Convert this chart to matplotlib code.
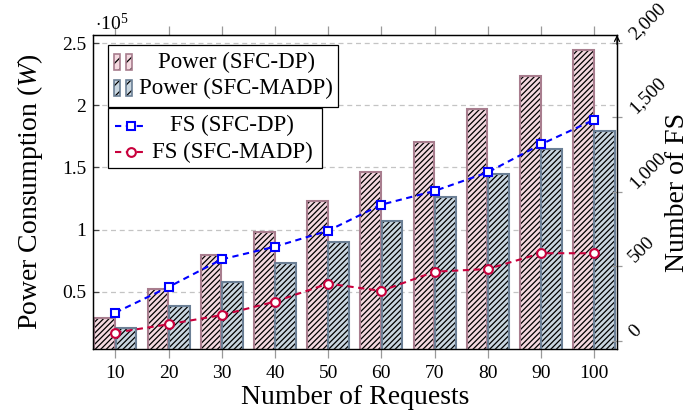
import matplotlib
matplotlib.use("Agg")
import matplotlib.pyplot as plt
from matplotlib.patches import Rectangle
from matplotlib.lines import Line2D
from matplotlib.ticker import FuncFormatter, FixedLocator

plt.rcParams['font.family'] = ['Liberation Serif', 'DejaVu Serif']
plt.rcParams['mathtext.fontset'] = 'custom'
plt.rcParams['mathtext.rm'] = 'Liberation Serif'
plt.rcParams['mathtext.it'] = 'Liberation Serif:italic'
plt.rcParams['hatch.linewidth'] = 0.9

# Data
requests = [10, 20, 30, 40, 50, 60, 70, 80, 90, 100]
power_dp = [28500, 52400, 79600, 98400, 122600, 146300, 170500, 196800, 224000, 244700]
power_madp = [21000, 38500, 58000, 72900, 90300, 106500, 126100, 144700, 165000, 179000]
fs_dp = [188, 360, 546, 631, 738, 913, 1005, 1130, 1318, 1483]
fs_madp = [54, 110, 172, 262, 383, 334, 463, 481, 587, 587]
left_ticks = [50000, 100000, 150000, 200000, 250000]
right_ticks = [0, 500, 1000, 1500, 2000]

W, H = 692, 416
fig = plt.figure(figsize=(W / 100, H / 100), dpi=100)


def fx(x):
    return x / W


def fy(y):
    return 1 - y / H


ax = fig.add_axes([fx(93), fy(349), fx(617) - fx(93), fy(35) - fy(349)])
ax2 = ax.twinx()

pink_face, pink_edge = '#f4d9e0', '#a87d8e'
blue_face, blue_edge = '#c9d6e0', '#6b7f95'
bw = 3.9


def hatched_bars(xs, heights, face, edge):
    # fill, black hatching, then the coloured outline on top
    ax.bar(xs, heights, width=bw, color=face, linewidth=0, zorder=2)
    ax.bar(xs, heights, width=bw, facecolor='none', edgecolor='black',
           linewidth=0, hatch='//////', zorder=2.1)
    ax.bar(xs, heights, width=bw, facecolor='none', edgecolor=edge,
           linewidth=1.5, zorder=2.2)


hatched_bars([r - 2.0 for r in requests], power_dp, pink_face, pink_edge)
hatched_bars([r + 2.0 for r in requests], power_madp, blue_face, blue_edge)

blue = '#0000ff'
red = '#c8003c'
ax2.plot(requests, fs_dp, linestyle=(0, (3, 2.2)), color=blue, lw=1.5,
         marker='s', ms=6.3, mfc='white', mec=blue, mew=1.5)
ax2.plot(requests, fs_madp, linestyle=(0, (3, 2.2)), color=red, lw=1.5,
         marker='o', ms=6.3, mfc='white', mec=red, mew=1.5)

ax.set_xlim(5.8, 104.3)
ax.set_ylim(3800, 256700)
ax2.set_ylim(-56, 2052)

ax.set_xticks(requests)
ax.yaxis.set_major_locator(FixedLocator(left_ticks))
ax.yaxis.set_major_formatter(FuncFormatter(lambda v, p: '%g' % (v / 1e5)))
ax2.yaxis.set_major_locator(FixedLocator(right_ticks))
ax2.yaxis.set_major_formatter(FuncFormatter(lambda v, p: '{:,}'.format(int(v))))

ax.set_axisbelow(True)
ax.yaxis.grid(True, linestyle=(0, (4, 3)), color='#c4c4c4', lw=0.9)

ax.tick_params(axis='x', which='major', direction='out', top=True, length=6.5,
               width=0.9, color='#999999', labelsize=14, pad=5)
ax.tick_params(axis='y', which='major', direction='in', length=4, width=0.9,
               color='#444444', labelsize=14, pad=5)
ax2.tick_params(axis='y', which='major', direction='inout', length=7,
                width=0.9, color='#999999', labelsize=14, pad=3,
                labelrotation=45)
for lab in ax2.get_yticklabels():
    lab.set_ha('left')
    lab.set_va('bottom')

for a in (ax, ax2):
    for s in a.spines.values():
        s.set_linewidth(0.9)
ax.spines['bottom'].set_color('#555555')

ax2.annotate('', xy=(1, 1.0), xytext=(1, 0.97), xycoords='axes fraction',
             arrowprops=dict(arrowstyle='->', lw=0.9, color='black',
                             mutation_scale=9, shrinkA=0, shrinkB=0))

ax.set_xlabel('Number of Requests', fontsize=20, labelpad=2)
ax.set_ylabel('Power Consumption ($W$)', fontsize=20, va='center', ha='center')
ax.yaxis.set_label_coords((30 - 93) / 524, 0.5)
ax2.set_ylabel('Number of FS', fontsize=20, va='center', ha='center')
ax2.yaxis.set_label_coords((678 - 93) / 524, 0.5)

fig.text(fx(95), fy(23), r'$\cdot 10^{5}$', fontsize=14, ha='left', va='center')

# Legend for the bars
fig.patches.append(Rectangle((fx(108), fy(107)), fx(338) - fx(108), fy(45) - fy(107),
                             transform=fig.transFigure, facecolor='white',
                             edgecolor='black', lw=0.9, zorder=5))
for yc, face, edge, text in [(62, pink_face, pink_edge, 'Power (SFC-DP)'),
                             (88, blue_face, blue_edge, 'Power (SFC-MADP)')]:
    for x0 in (114, 126):
        box = dict(xy=(fx(x0), fy(yc + 8)), width=fx(6), height=16 / H,
                   transform=fig.transFigure)
        fig.patches.append(Rectangle(**box, facecolor=face, lw=0, zorder=6))
        fig.patches.append(Rectangle(**box, facecolor='none', edgecolor='black',
                                     lw=0, hatch='///', zorder=6.1))
        fig.patches.append(Rectangle(**box, facecolor='none', edgecolor=edge,
                                     lw=1.2, zorder=6.2))
    fig.text(fx(236), fy(yc), text, fontsize=16.5, ha='center', va='center', zorder=6)

# Legend for the lines
fig.patches.append(Rectangle((fx(108), fy(168)), fx(322) - fx(108), fy(108) - fy(168),
                             transform=fig.transFigure, facecolor='white',
                             edgecolor='black', lw=0.9, zorder=5))
for yc, col, mk, text in [(125.7, blue, 's', 'FS (SFC-DP)'),
                          (152.3, red, 'o', 'FS (SFC-MADP)')]:
    fig.lines.append(Line2D([fx(115), fx(147)], [fy(yc), fy(yc)],
                            transform=fig.transFigure, color=col, lw=1.5,
                            linestyle=(0, (3, 2.2)), zorder=6))
    fig.lines.append(Line2D([fx(131)], [fy(yc)], transform=fig.transFigure,
                            marker=mk, ms=6.3, mfc='white', mec=col, mew=1.5,
                            linestyle='none', zorder=7))
    fig.text(fx(232), fy(yc), text, fontsize=16.5, ha='center', va='center', zorder=6)

fig.savefig('out.png', dpi=100)
